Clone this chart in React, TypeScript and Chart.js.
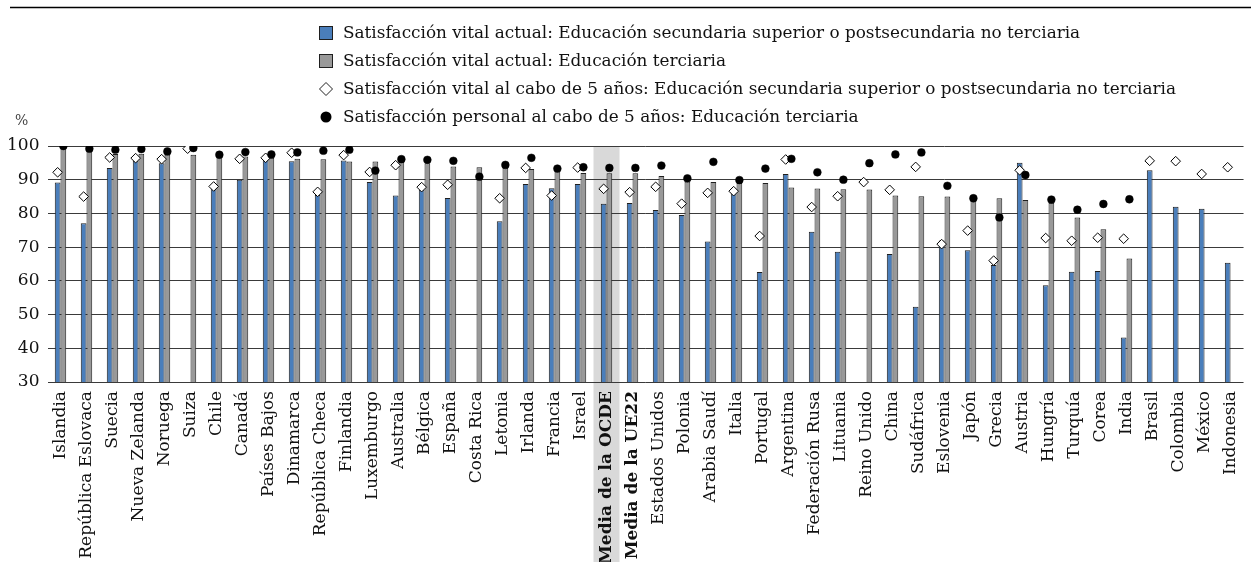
import React, { useEffect, useRef } from "react";
import { Chart, registerables } from "chart.js";

Chart.register(...registerables);

const categories = [
  "Islandia", "República Eslovaca", "Suecia", "Nueva Zelanda", "Noruega", "Suiza", "Chile", "Canadá",
  "Países Bajos", "Dinamarca", "República Checa", "Finlandia", "Luxemburgo", "Australia", "Bélgica",
  "España", "Costa Rica", "Letonia", "Irlanda", "Francia", "Israel", "Media de la OCDE", "Media de la UE22",
  "Estados Unidos", "Polonia", "Arabia Saudí", "Italia", "Portugal", "Argentina", "Federación Rusa",
  "Lituania", "Reino Unido", "China", "Sudáfrica", "Eslovenia", "Japón", "Grecia", "Austria", "Hungría",
  "Turquía", "Corea", "India", "Brasil", "Colombia", "México", "Indonesia",
];

const currentSecondary = [
  89.2, 77.1, 93.5, 95.6, 94.9, null, 87.6, 90.0, 96.3, 95.5, 85.5, 95.7, 89.3, 85.3, 87.0, 84.6, null,
  77.7, 88.7, 87.5, 88.7, 82.9, 83.1, 81.0, 79.5, 71.7, 86.0, 62.6, 91.7, 74.6, 68.6, null, 68.0, 52.3,
  72.0, 69.1, 64.7, 95.0, 58.7, 62.7, 62.9, 43.2, 92.8, 82.0, 81.4, 65.4,
];

const currentTertiary = [
  99.9, 98.9, 97.6, 97.7, 97.5, 97.4, 96.9, 96.9, 96.5, 96.2, 96.1, 95.4, 95.4, 95.4, 94.9, 93.9, 93.7,
  93.6, 93.2, 92.5, 92.0, 91.9, 91.9, 91.1, 89.5, 89.3, 89.0, 89.0, 87.7, 87.4, 87.2, 87.1, 85.3, 85.1,
  85.0, 84.5, 84.5, 84.0, 83.2, 78.8, 75.3, 66.6, null, null, null, null,
];

const futureSecondary = [
  92.2, 85.0, 96.6, 96.4, 96.1, 99.2, 88.0, 96.2, 96.5, 98.0, 86.4, 97.3, 92.3, 94.3, 87.8, 88.5, null,
  84.5, 93.5, 85.3, 93.6, 87.3, 86.3, 87.9, 82.9, 86.1, 86.6, 73.3, 96.0, 81.9, 85.1, 89.3, 87.0, 93.8,
  70.9, 74.9, 66.0, 92.8, 72.7, 71.9, 72.8, 72.5, 95.6, 95.5, 91.7, 93.7,
];

const futureTertiary = [
  100.0, 99.2, 98.9, 99.1, 98.4, 99.4, 97.4, 98.2, 97.5, 98.1, 98.6, 98.9, 92.7, 96.1, 95.9, 95.6, 90.9,
  94.4, 96.5, 93.3, 93.7, 93.5, 93.5, 94.2, 90.4, 95.3, 89.9, 93.3, 96.2, 92.2, 90.0, 94.9, 97.5, 98.1,
  88.2, 84.5, 78.8, 91.4, 84.1, 81.1, 82.8, 84.2, null, null, null, null,
];

const seriesLabels = [
  "Satisfacción vital actual: Educación secundaria superior o postsecundaria no terciaria",
  "Satisfacción vital actual: Educación terciaria",
  "Satisfacción vital al cabo de 5 años: Educación secundaria superior o postsecundaria no terciaria",
  "Satisfacción personal al cabo de 5 años: Educación terciaria",
];

const boldLabels = ["Media de la OCDE", "Media de la UE22"];
const highlighted = "Media de la OCDE";
const yTicks = { min: 30, max: 100, step: 10 };

const BLUE = "#4a7ebb";
const GRAY = "#999999";
const EDGE = "#1f1f1f";
const FONT = "'DejaVu Serif', serif";
const GROUP = 0.44;

export default function App() {
  const ref = useRef<HTMLCanvasElement | null>(null);

  useEffect(() => {
    if (!ref.current) return;

    // Align each marker with the bar of the same education level (uses the library's bar positions)
    const alignMarkers = {
      id: "alignMarkers",
      afterDatasetsUpdate(chart: any) {
        const pairs: [number, number][] = [
          [2, 0],
          [3, 1],
        ];
        pairs.forEach(([pt, bar]) => {
          const pm = chart.getDatasetMeta(pt);
          const bm = chart.getDatasetMeta(bar);
          pm.data.forEach((el: any, i: number) => {
            const b = bm.data[i];
            if (b) el.x = b.x;
          });
        });
      },
    };

    const decor = {
      id: "decor",
      beforeDraw(chart: any) {
        const { ctx, chartArea } = chart;
        const x = chart.scales.x;
        const idx = categories.indexOf(highlighted);
        const left = x.getPixelForValue(idx - 0.5);
        const right = x.getPixelForValue(idx + 0.5);
        ctx.save();
        ctx.fillStyle = "#d9d9d9";
        ctx.fillRect(left, chartArea.top, right - left, chart.height - chartArea.top);
        ctx.restore();
      },
      afterDraw(chart: any) {
        const { ctx } = chart;
        ctx.save();
        ctx.strokeStyle = "#000";
        ctx.lineWidth = 1.3;
        ctx.beginPath();
        ctx.moveTo(10, 7.5);
        ctx.lineTo(1251, 7.5);
        ctx.stroke();
        ctx.fillStyle = "#444";
        ctx.font = `14px ${FONT}`;
        ctx.textBaseline = "middle";
        ctx.textAlign = "left";
        ctx.fillText("%", 15, 121);
        const rows = [33, 61, 89, 117];
        const mx = 326;
        ctx.font = `16.85px ${FONT}`;
        rows.forEach((ry, i) => {
          ctx.lineWidth = 1;
          ctx.strokeStyle = EDGE;
          if (i < 2) {
            ctx.fillStyle = i === 0 ? BLUE : GRAY;
            ctx.fillRect(319.5, ry - 6.5, 13, 13);
            ctx.strokeRect(319.5, ry - 6.5, 13, 13);
          } else if (i === 2) {
            ctx.fillStyle = "#fff";
            ctx.beginPath();
            ctx.moveTo(mx - 6.5, ry);
            ctx.lineTo(mx, ry - 6.5);
            ctx.lineTo(mx + 6.5, ry);
            ctx.lineTo(mx, ry + 6.5);
            ctx.closePath();
            ctx.fill();
            ctx.stroke();
          } else {
            ctx.fillStyle = "#000";
            ctx.beginPath();
            ctx.arc(mx, ry, 5.5, 0, Math.PI * 2);
            ctx.fill();
          }
          ctx.fillStyle = "#111";
          ctx.fillText(seriesLabels[i], 343, ry + 1);
        });
        ctx.restore();
      },
    };

    const chart = new Chart(ref.current, {
      type: "bar",
      data: {
        labels: categories,
        datasets: [
          {
            type: "bar",
            label: seriesLabels[0],
            data: currentSecondary,
            backgroundColor: BLUE,
            borderColor: EDGE,
            borderWidth: 1,
            categoryPercentage: GROUP,
            barPercentage: 1,
            order: 3,
          },
          {
            type: "bar",
            label: seriesLabels[1],
            data: currentTertiary,
            backgroundColor: GRAY,
            borderColor: EDGE,
            borderWidth: 1,
            categoryPercentage: GROUP,
            barPercentage: 1,
            order: 3,
          },
          {
            type: "line",
            label: seriesLabels[2],
            data: futureSecondary,
            showLine: false,
            pointStyle: "rectRot",
            pointRadius: 4.8,
            pointBackgroundColor: "#fff",
            pointBorderColor: "#000",
            pointBorderWidth: 1,
            order: 1,
          },
          {
            type: "line",
            label: seriesLabels[3],
            data: futureTertiary,
            showLine: false,
            pointStyle: "circle",
            pointRadius: 3.9,
            pointBackgroundColor: "#000",
            pointBorderColor: "#000",
            pointBorderWidth: 0.5,
            order: 0,
          },
        ],
      },
      options: {
        responsive: true,
        maintainAspectRatio: false,
        animation: false,
        events: [],
        layout: { padding: { top: 146, right: 1, left: 0, bottom: 0 } },
        plugins: { legend: { display: false }, tooltip: { enabled: false } },
        scales: {
          x: {
            type: "category",
            offset: true,
            grid: { display: false, drawTicks: false },
            border: { display: false },
            ticks: {
              autoSkip: false,
              maxRotation: 90,
              minRotation: 90,
              padding: 9,
              color: "#111",
              font: (c: any) => ({
                family: FONT,
                size: 17,
                weight: boldLabels.includes(categories[c.index]) ? "bold" : "normal",
              }),
            },
            afterFit: (s: any) => {
              s.height = 180;
            },
          },
          y: {
            min: yTicks.min,
            max: yTicks.max,
            border: { display: false },
            grid: { color: "#3a3a3a", lineWidth: 1, drawTicks: false },
            ticks: {
              stepSize: yTicks.step,
              padding: 8,
              color: "#111",
              font: { family: FONT, size: 17 },
            },
            afterFit: (s: any) => {
              s.width = 47.5;
            },
          },
        },
      },
      plugins: [alignMarkers, decor],
    });

    return () => chart.destroy();
  }, []);

  return (
    <div style={{ position: "absolute", left: 0, top: 0, width: 1251, height: 562, overflow: "hidden", background: "#fff" }}>
      <div style={{ width: 1260, height: 562 }}>
        <canvas ref={ref} />
      </div>
    </div>
  );
}
